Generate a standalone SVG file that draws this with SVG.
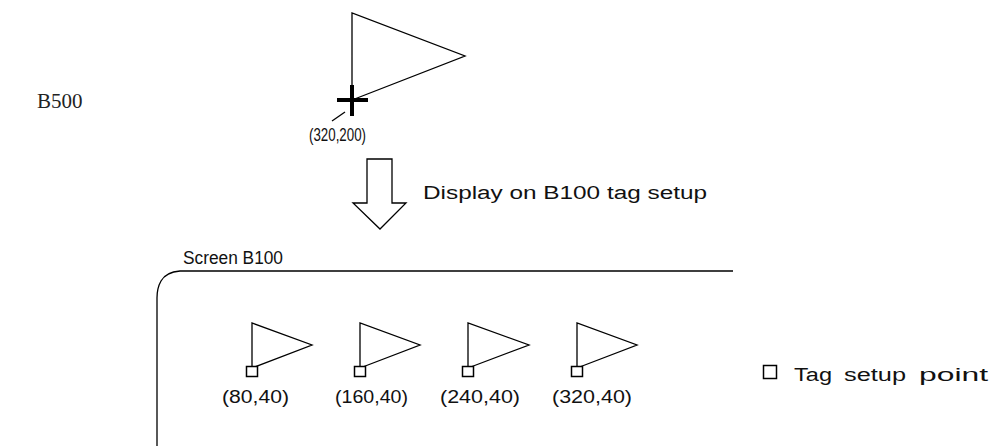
<svg xmlns="http://www.w3.org/2000/svg" width="1002" height="446" viewBox="0 0 1002 446">
<style>
.ln{fill:none;stroke:#000;stroke-width:1.3}
.t{font-family:"Liberation Sans",Arial,sans-serif;font-size:18px;fill:#111}
.sq{fill:#fff;stroke:#000;stroke-width:1.5}
</style>
<rect width="1002" height="446" fill="#fff"/>
<text x="37" y="108" font-family="Liberation Serif,Times New Roman,serif" font-size="21" fill="#222">B500</text>
<g id="bigflag">
<polyline class="ln" points="352,100 352,13 465,56 352,100"/>
<line x1="337" y1="100" x2="368" y2="100" stroke="#000" stroke-width="4"/>
<line x1="352" y1="85" x2="352" y2="116" stroke="#000" stroke-width="4"/>
<line class="ln" x1="345" y1="112" x2="332" y2="121"/>
<text class="t" x="309" y="141" font-size="18" textLength="57" lengthAdjust="spacingAndGlyphs">(320,200)</text>
</g>
<g id="arrow">
<polygon class="ln" points="367,159 392,159 392,203 406,203 380,229 353,203 367,203"/>
<text class="t" x="423" y="199" font-size="19" textLength="284" lengthAdjust="spacingAndGlyphs">Display on B100 tag setup</text>
</g>
<g id="screen">
<text class="t" x="183" y="264" textLength="100" lengthAdjust="spacingAndGlyphs">Screen B100</text>
<path class="ln" d="M733,271 H180 Q166,272 161,281 Q157,288 157,298 V446" stroke-width="1.5"/>
</g>
<g id="flags">
<g id="f1"><polyline class="ln" points="252,368 252,323 312,345 252,368"/><rect class="sq" x="246.5" y="366.5" width="11" height="10"/>
<text class="t" x="222" y="403" textLength="67" lengthAdjust="spacingAndGlyphs">(80,40)</text></g>
<g id="f2"><polyline class="ln" points="360,368 360,323 420,345 360,368"/><rect class="sq" x="354.5" y="366.5" width="11" height="10"/>
<text class="t" x="335" y="403" textLength="73" lengthAdjust="spacingAndGlyphs">(160,40)</text></g>
<g id="f3"><polyline class="ln" points="468,368 468,323 529,345 468,368"/><rect class="sq" x="462.5" y="366.5" width="11" height="10"/>
<text class="t" x="440" y="403" textLength="80" lengthAdjust="spacingAndGlyphs">(240,40)</text></g>
<g id="f4"><polyline class="ln" points="577,368 577,323 637,345 577,368"/><rect class="sq" x="571.5" y="366.5" width="11" height="10"/>
<text class="t" x="552" y="403" textLength="80" lengthAdjust="spacingAndGlyphs">(320,40)</text></g>
</g>
<g id="legend">
<rect class="sq" x="763.5" y="365.5" width="13" height="13"/>
<text class="t" y="381" font-size="19"><tspan x="794" textLength="38" lengthAdjust="spacingAndGlyphs">Tag</tspan> <tspan x="844" textLength="62" lengthAdjust="spacingAndGlyphs">setup</tspan> <tspan x="919" textLength="69" lengthAdjust="spacingAndGlyphs">point</tspan></text>
</g>
</svg>
